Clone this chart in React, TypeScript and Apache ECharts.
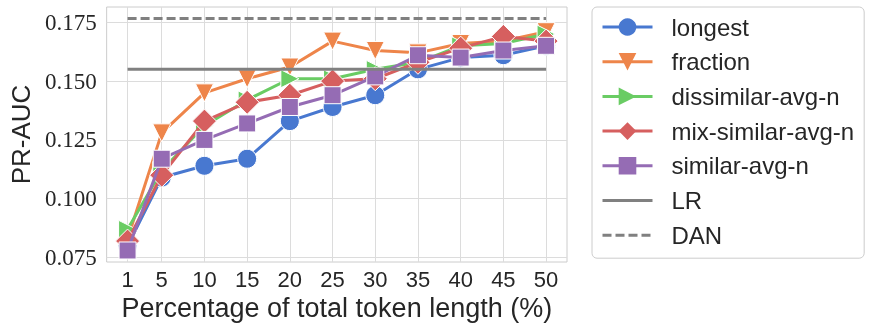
import React, { useEffect, useRef } from "react";
import * as echarts from "echarts";

const pct = [1, 5, 10, 15, 20, 25, 30, 35, 40, 45, 50];
const longest = [0.080, 0.109, 0.114, 0.117, 0.133, 0.139, 0.144, 0.155, 0.160, 0.161, 0.165];
const fraction = [0.083, 0.128, 0.145, 0.151, 0.156, 0.167, 0.163, 0.162, 0.166, 0.167, 0.171];
const dissimilar = [0.087, 0.112, 0.131, 0.142, 0.151, 0.151, 0.155, 0.158, 0.165, 0.166, 0.170];
const mixSimilar = [0.082, 0.110, 0.133, 0.141, 0.144, 0.150, 0.151, 0.158, 0.164, 0.169, 0.167];
const similar = [0.078, 0.117, 0.125, 0.132, 0.139, 0.144, 0.152, 0.161, 0.160, 0.163, 0.165];
const lrValue = 0.155;
const danValue = 0.1766;
const yTicks = [0.075, 0.1, 0.125, 0.15, 0.175];
const xTicks = [1, 5, 10, 15, 20, 25, 30, 35, 40, 45, 50];

const SANS = "Liberation Sans, Arial, sans-serif";
const SERIF = "Liberation Serif, Times New Roman, serif";
const TEXT = "#262626";

// legend icons: box pinned to 50x22 with zero-area sub-paths at the corners
const SOLID_ICON = "path://M0,0L0,0M50,22L50,22M0,9.5L50,9.5L50,12.5L0,12.5Z";
const DASH_ICON =
  "path://M0,0L0,0M50,22L50,22M0,9.5h9v3h-9zM13,9.5h9v3h-9zM26,9.5h9v3h-9zM39,9.5h9v3h-9z";

export default function App() {
  const ref = useRef<HTMLDivElement>(null);
  useEffect(() => {
    if (!ref.current) return;
    const chart = echarts.init(ref.current, undefined, { renderer: "svg" });
    const mk = (
      name: string,
      vals: number[],
      color: string,
      symbol: string,
      size: number,
      rotate: number,
      z: number
    ) => ({
      name,
      type: "line",
      data: pct.map((p, i) => [p, vals[i]]),
      color,
      symbol,
      symbolSize: size,
      symbolRotate: rotate,
      showSymbol: true,
      z,
      lineStyle: { width: 3, color, type: "solid" },
      itemStyle: { color, borderColor: "#ffffff", borderWidth: 1 },
      emphasis: { disabled: true },
    });
    const hline = (name: string, v: number, dashed: boolean, z: number) => ({
      name,
      type: "line",
      data: [
        [pct[0], v],
        [pct[pct.length - 1], v],
      ],
      color: "#808080",
      symbol: "none",
      z,
      lineStyle: { width: 3, color: "#808080", type: dashed ? [9, 4] : "solid" },
      emphasis: { disabled: true },
    });
    chart.setOption({
      animation: false,
      grid: {
        left: 97,
        top: 7,
        width: 470,
        height: 255,
        show: true,
        borderColor: "#cccccc",
        borderWidth: 1,
        backgroundColor: "#ffffff",
      },
      xAxis: {
        type: "value",
        min: -1.45,
        max: 52.45,
        name: "Percentage of total token length (%)",
        nameLocation: "middle",
        nameGap: 32,
        nameTextStyle: { fontFamily: SANS, fontSize: 27, color: TEXT },
        axisLine: { show: false },
        axisTick: { show: false, customValues: xTicks },
        axisLabel: {
          customValues: xTicks,
          fontFamily: SANS,
          fontSize: 22,
          color: TEXT,
          margin: 6,
        },
        splitLine: { show: true, lineStyle: { color: "#dcdcdc", width: 1 } },
      },
      yAxis: {
        type: "value",
        min: 0.0731,
        max: 0.1815,
        name: "PR-AUC",
        nameLocation: "middle",
        nameGap: 66,
        nameTextStyle: { fontFamily: SANS, fontSize: 26, color: TEXT },
        axisLine: { show: false },
        axisTick: { show: false, customValues: yTicks },
        axisLabel: {
          customValues: yTicks,
          formatter: (v: number) => v.toFixed(3),
          fontFamily: SERIF,
          fontSize: 23,
          color: TEXT,
          margin: 10,
        },
        splitLine: { show: true, lineStyle: { color: "#dcdcdc", width: 1 } },
      },
      legend: {
        orient: "vertical",
        left: 592,
        top: 7,
        padding: [8, 10, 11, 9],
        itemGap: 10.7,
        itemWidth: 50,
        itemHeight: 22,
        backgroundColor: "#ffffff",
        borderColor: "#cccccc",
        borderWidth: 1,
        borderRadius: 5,
        lineStyle: { width: 3, type: "solid" },
        itemStyle: { borderWidth: 0 },
        textStyle: {
          fontFamily: SANS,
          fontSize: 24,
          color: TEXT,
          padding: [0, 0, 0, 14],
        },
        data: [
          { name: "longest" },
          { name: "fraction" },
          { name: "dissimilar-avg-n" },
          { name: "mix-similar-avg-n" },
          { name: "similar-avg-n" },
          { name: "LR", icon: SOLID_ICON },
          { name: "DAN", icon: DASH_ICON },
        ],
      },
      series: [
        mk("longest", longest, "#4878d0", "circle", 19, 0, 2),
        mk("fraction", fraction, "#ee854a", "triangle", 18, 180, 3),
        mk("dissimilar-avg-n", dissimilar, "#6acc64", "triangle", 18, -90, 4),
        mk("mix-similar-avg-n", mixSimilar, "#d65f5f", "diamond", 24, 0, 5),
        mk("similar-avg-n", similar, "#956cb4", "rect", 17, 0, 6),
        hline("LR", lrValue, false, 7),
        hline("DAN", danValue, true, 7),
      ],
    });
    return () => chart.dispose();
  }, []);
  return (
    <div
      ref={ref}
      style={{ position: "fixed", left: 0, top: 0, width: 872, height: 330 }}
    />
  );
}
